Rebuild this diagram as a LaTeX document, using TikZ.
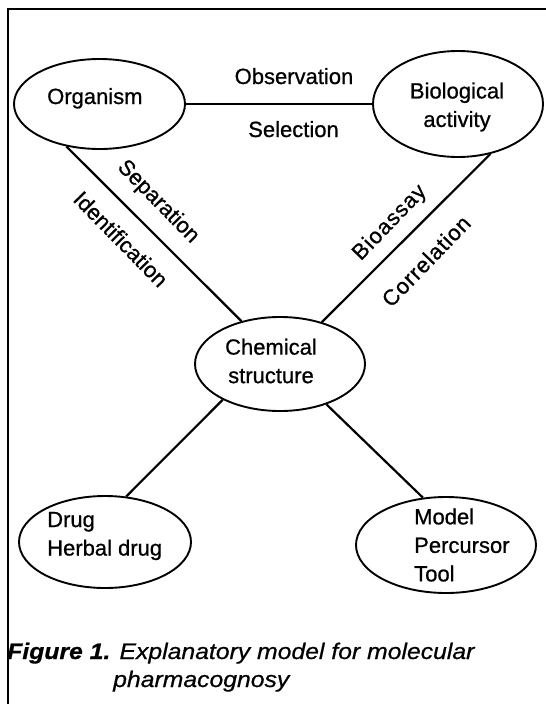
\documentclass[tikz,border=0pt]{standalone}
\usepackage{fontspec}
\setmainfont{Liberation Sans}
\usetikzlibrary{shapes.geometric}
\begin{document}
\begin{tikzpicture}[x=1pt,y=-1pt,
  bubble/.style={draw, ellipse, line width=1.9pt, inner sep=0pt},
  lbl/.style={font=\fontsize{22}{28.5}\selectfont\addfontfeature{FakeBold=0.8}, inner sep=0pt, align=center},
  spaced/.style={font=\fontsize{22}{28.5}\selectfont\addfontfeature{LetterSpace=4,FakeBold=0.8}, inner sep=0pt},
  capt/.style={font=\fontsize{22.5}{28}\selectfont\addfontfeature{FakeBold=0.6}, inner sep=0pt, xscale=1.1},
  link/.style={line width=2.2pt},
  frame/.style={line width=1.9pt}]
\useasboundingbox (0,0) rectangle (546,704);
% frame
\coordinate (fbl) at (8.4,704);
\coordinate (ftl) at (8.4,9.4);
\coordinate (ftr) at (546,9.4);
\draw[frame] (fbl) -- (ftl) -- (ftr);
% ellipses
\node[bubble, minimum width=171pt, minimum height=90pt] (org) at (99.5,104) {};
\node[bubble, minimum width=170pt, minimum height=106pt] (bio) at (458,104) {};
\node[bubble, minimum width=170pt, minimum height=94pt] (chem) at (280,364) {};
\node[bubble, minimum width=172pt, minimum height=92pt] (drug) at (105,542) {};
\node[bubble, minimum width=180pt, minimum height=96pt] (model) at (446,545) {};
% texts in ellipses
\node[lbl, anchor=base west] (orgt) at (47,104) {Organism};
\node[lbl] (biot) at (457,107) {Biological\\activity};
\node[lbl] (chemt) at (271,361) {Chemical\\structure};
\node[lbl, align=left, anchor=west] (drugt) at (47,536) {Drug\\Herbal drug};
\node[lbl, align=left, anchor=west] (modelt) at (414,545) {Model\\Percursor\\Tool};
% connectors
\draw[link] (org.east) -- (bio.west);
\draw[link] (org.-128) -- (chem.132);
\draw[link] (bio.-57) -- (chem.45);
\draw[link] (chem.-148) -- (drug.65);
\draw[link] (chem.-41) -- (model.116);
% connector labels
\node[lbl, anchor=base] (obs) at (294,84) {Observation};
\node[lbl, anchor=base] (sel) at (293.5,137) {Selection};
\node[lbl, rotate=-45.5] (sep) at (158,202) {Separation};
\node[lbl, rotate=-45.5] (ident) at (121,239) {Identification};
\node[spaced, rotate=46] (bioa) at (390,223) {Bioassay};
\node[spaced, rotate=46] (corr) at (426,261) {Correlation};
% caption
\node[capt, anchor=base west] (cap1) at (7,659) {\textbf{\textit{Figure 1.}} \textit{Explanatory model for molecular}};
\node[capt, anchor=base west] (cap2) at (113,687) {\textit{pharmacognosy}};
\end{tikzpicture}
\end{document}
